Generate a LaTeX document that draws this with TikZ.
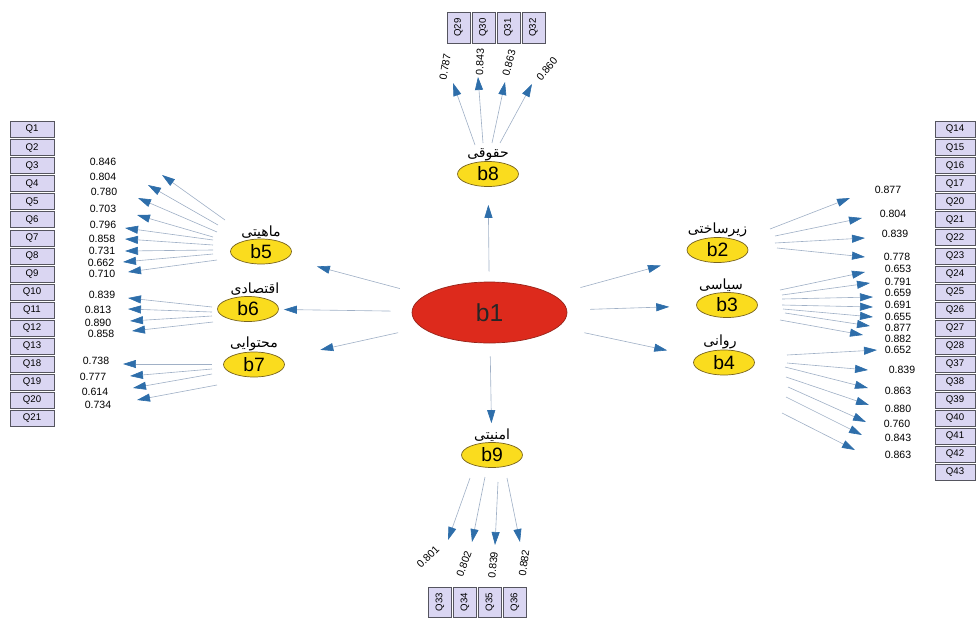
\documentclass[tikz,border=0pt]{standalone}
\usepackage{fontspec}
\setmainfont{Liberation Sans}
\newfontfamily\fafont[Script=Arabic]{DejaVu Sans}
\TeXXeTstate=1
\usepackage{xcolor}
\usepackage{tikz}
\usetikzlibrary{positioning, calc, arrows.meta, shapes.geometric}
\definecolor{QLilac}{RGB}{218,214,242}
\definecolor{QFrame}{RGB}{85,85,95}
\definecolor{FactorYellow}{RGB}{250,220,30}
\definecolor{FactorEdge}{RGB}{120,100,30}
\definecolor{CoreRed}{RGB}{221,42,28}
\definecolor{CoreEdge}{RGB}{150,35,25}
\definecolor{LineGrey}{RGB}{160,176,198}
\definecolor{HeadBlue}{RGB}{46,110,170}
\tikzset{
    qbox/.style={
        draw=QFrame, fill=QLilac, font=\fontsize{5.5}{6}\selectfont,
        minimum width=0.88cm, minimum height=0.32cm, inner sep=0pt
    },
    qboxv/.style={
        qbox, minimum width=0.46cm, minimum height=0.62cm
    },
    factor/.style={
        ellipse, draw=FactorEdge, fill=FactorYellow, font=\fontsize{11}{12}\selectfont,
        minimum width=1.22cm, minimum height=0.5cm, inner sep=0pt
    },
    core/.style={
        ellipse, draw=CoreEdge, fill=CoreRed, text=black!85, font=\fontsize{14}{16}\selectfont,
        minimum width=3.1cm, minimum height=1.22cm, inner sep=0pt
    },
    catlab/.style={
        font=\fontsize{8}{9}\selectfont, inner sep=0pt
    },
    loadline/.style={
        draw=LineGrey, line width=0.35pt,
        -{Triangle[length=0.26cm, width=0.16cm, color=HeadBlue]}
    },
    loadval/.style={
        font=\fontsize{6}{7}\selectfont, inner sep=0pt
    }
}
\newcommand{\drawload}[6]{
    \coordinate (#1s) at (#2);
    \coordinate (#1t) at (#3);
    \draw[loadline] (#1s) -- (#1t);
    \node[loadval, rotate=#6] (#1v) at (#4) {#5};
}

\begin{document}
\begin{tikzpicture}[x=0.02cm, y=-0.02cm]
    \useasboundingbox (0,0) rectangle (976,619);

    % --- CAC O CAU HOI ---
    \foreach \q [count=\i from 0] in {1,...,13,18,19,20,21}
        \node[qbox] (ql\q) at (32, {129.5+18.06*\i}) {Q\q};
    \foreach \q [count=\i from 0] in {14,15,16,17,20,21,22,23,24,25,26,27,28,37,38,39,40,41,42,43}
        \node[qbox, minimum width=0.8cm] (qr\q) at (955, {129.5+18.05*\i}) {Q\q};
    \foreach \q [count=\i from 0] in {29,30,31,32}
        \node[qboxv] (qt\q) at ({458.5+25*\i}, 27.5) {\rotatebox{90}{Q\q}};
    \foreach \q [count=\i from 0] in {33,34,35,36}
        \node[qboxv, minimum height=0.6cm] (qb\q) at ({440+25*\i}, 602) {\rotatebox{90}{Q\q}};

    % --- CAC NHAN TO ---
    \node[core] (b1) at (489.5, 312.5) {b1};
    \node[factor] (b2) at (717.5, 250) {b2};
    \node[factor] (b3) at (727, 305) {b3};
    \node[factor] (b4) at (724, 362.5) {b4};
    \node[factor] (b5) at (261, 251.5) {b5};
    \node[factor] (b6) at (248, 309) {b6};
    \node[factor] (b7) at (254, 364.5) {b7};
    \node[factor] (b8) at (488, 174) {b8};
    \node[factor] (b9) at (492, 455) {b9};

    \node[catlab, above=0pt of b2] (lab2) {\fafont\beginR زیرساختی\endR};
    \node[catlab, above=0pt of b3, xshift=-0.12cm] (lab3) {\fafont\beginR سیاسی\endR};
    \node[catlab, above=0pt of b4, xshift=-0.08cm] (lab4) {\fafont\beginR روانی\endR};
    \node[catlab, above=0pt of b5] (lab5) {\fafont\beginR ماهیتی\endR};
    \node[catlab, above=0pt of b6, xshift=0.14cm] (lab6) {\fafont\beginR اقتصادی\endR};
    \node[catlab, above=0pt of b7] (lab7) {\fafont\beginR محتوایی\endR};
    \node[catlab, above=0pt of b8] (lab8) {\fafont\beginR حقوقی\endR};
    \node[catlab, above=0pt of b9] (lab9) {\fafont\beginR امنیتی\endR};

    % --- MUI TEN TU b1 ---
    \draw[loadline, shorten <=0.20cm, shorten >=0.36cm] (b1) -- (b8);
    \draw[loadline, shorten <=0.26cm, shorten >=0.38cm] (b1) -- (b9);
    \draw[loadline, shorten <=0.52cm, shorten >=0.62cm] (b1) -- (b5);
    \draw[loadline, shorten <=0.42cm, shorten >=0.10cm] (b1) -- (b6);
    \draw[loadline, shorten <=0.48cm, shorten >=0.80cm] (b1) -- (b7);
    \draw[loadline, shorten <=0.56cm, shorten >=0.64cm] (b1) -- (b2);
    \draw[loadline, shorten <=0.46cm, shorten >=0.54cm] (b1) -- (b3);
    \draw[loadline, shorten <=0.54cm, shorten >=0.60cm] (b1) -- (b4);

    % --- HE SO TAI: b5, b6, b7 ---
    \drawload{l5a}{225,220}{162,175}{103,162}{0.846}{0}
    \drawload{l5b}{218,225}{148,185}{103,177}{0.804}{0}
    \drawload{l5c}{217,232}{138,198}{104,192}{0.780}{0}
    \drawload{l5d}{213,237}{137,215}{103,209}{0.703}{0}
    \drawload{l5e}{213,240}{125,228}{103,225}{0.796}{0}
    \drawload{l5f}{213,245}{125,239}{102,239}{0.858}{0}
    \drawload{l5g}{213,250}{125,251}{102,251}{0.731}{0}
    \drawload{l5h}{213,254}{123,262}{101,263}{0.662}{0}
    \drawload{l5i}{217,260}{128,272}{102,274}{0.710}{0}
    \drawload{l6a}{212,307}{128,298}{102,295}{0.839}{0}
    \drawload{l6b}{212,312}{128,309}{98,310}{0.813}{0}
    \drawload{l6c}{212,316}{130,321}{98,323}{0.890}{0}
    \drawload{l6d}{213,322}{132,331}{101,334}{0.858}{0}
    \drawload{l7a}{212,364}{123,364}{96,361}{0.738}{0}
    \drawload{l7b}{212,369}{130,376}{93,377}{0.777}{0}
    \drawload{l7c}{212,374}{133,388}{95,392}{0.614}{0}
    \drawload{l7d}{217,385}{137,400}{98,405}{0.734}{0}

    % --- HE SO TAI: b2, b3, b4 ---
    \drawload{l2a}{770,229}{850,198}{888,190}{0.877}{0}
    \drawload{l2b}{775,236}{862,218}{893,214}{0.804}{0}
    \drawload{l2c}{775,243}{865,238}{895,234}{0.839}{0}
    \drawload{l2d}{777,248}{865,257}{897,257}{0.778}{0}
    \drawload{l3a}{780,290}{865,272}{898,269}{0.653}{0}
    \drawload{l3b}{782,295}{870,283}{898,282}{0.791}{0}
    \drawload{l3c}{782,299}{873,297}{898,293}{0.659}{0}
    \drawload{l3d}{782,305}{873,307}{898,305}{0.691}{0}
    \drawload{l3e}{783,309}{873,317}{898,317}{0.655}{0}
    \drawload{l3f}{785,313}{870,326}{898,328}{0.877}{0}
    \drawload{l3g}{780,320}{863,335}{898,339}{0.882}{0}
    \drawload{l4a}{787,355}{877,350}{898,350}{0.652}{0}
    \drawload{l4b}{787,363}{868,370}{902,370}{0.839}{0}
    \drawload{l4c}{785,367}{868,388}{898,391}{0.863}{0}
    \drawload{l4d}{786,377}{869,405}{898,409}{0.880}{0}
    \drawload{l4e}{788,387}{866,422}{897,424}{0.760}{0}
    \drawload{l4f}{786,397}{862,435}{898,438}{0.843}{0}
    \drawload{l4g}{782,413}{855,450}{898,455}{0.863}{0}

    % --- HE SO TAI: b8, b9 ---
    \drawload{l8a}{475,145}{453,83}{445,67}{0.787}{80}
    \drawload{l8b}{483,143}{478,77}{480,62}{0.843}{88}
    \drawload{l8c}{492,143}{505,82}{509,63}{0.863}{75}
    \drawload{l8d}{500,143}{532,84}{547,69}{0.860}{50}
    \drawload{l9a}{470,478}{448,540}{428,557}{0.801}{45}
    \drawload{l9b}{485,477}{472,542}{464,564}{0.802}{70}
    \drawload{l9c}{498,482}{495,545}{493,565}{0.839}{85}
    \drawload{l9d}{507,478}{520,542}{524,563}{0.882}{82}

\end{tikzpicture}
\end{document}
